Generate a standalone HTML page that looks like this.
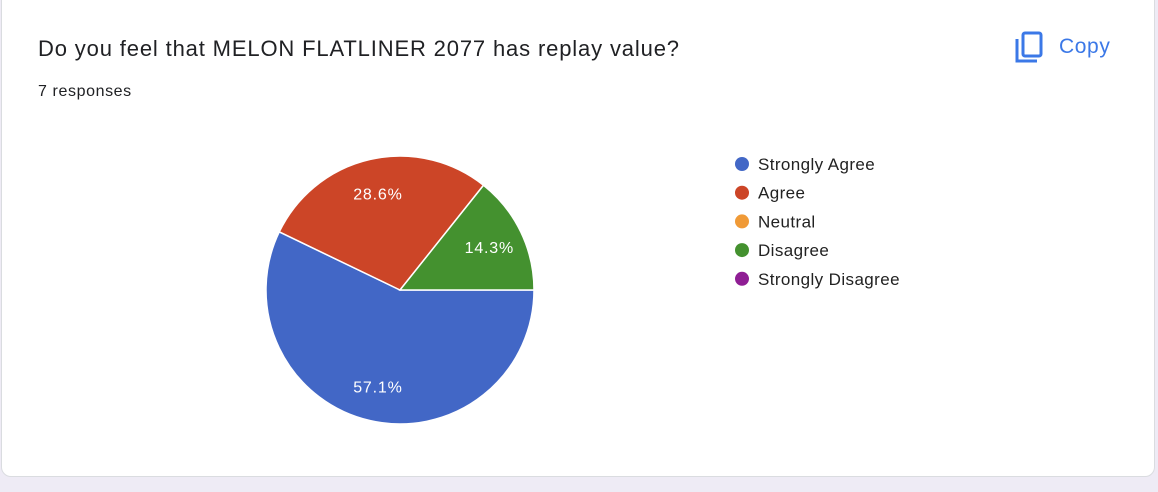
<!DOCTYPE html>
<html><head><meta charset="utf-8"><style>
body{margin:0;width:1158px;height:492px;background:#eeebf5;overflow:hidden;font-family:"Liberation Sans",Arial,sans-serif;}
#card{position:absolute;left:1px;top:-10px;width:1152px;height:485px;background:#fff;border:1px solid #dadce0;border-radius:10px;}
#title{position:absolute;left:38px;top:36px;font-size:22px;letter-spacing:0.85px;color:#202124;}
#resp{position:absolute;left:38px;top:83px;font-size:16px;letter-spacing:0.6px;color:#202124;}
#copy{position:absolute;left:1014px;top:30px;color:#3b78e7;font-size:21px;letter-spacing:0.6px;display:flex;align-items:center;gap:15px;}
</style></head><body>
<div id="card"></div>
<div id="title">Do you feel that MELON FLATLINER 2077 has replay value?</div>
<div id="resp">7 responses</div>
<div id="copy">
<svg width="30" height="34" viewBox="0 0 30 34"><path d="M3 9 V31 H23" fill="none" stroke="#3b78e7" stroke-width="3"/><rect x="9" y="3" width="18" height="23" rx="2" fill="none" stroke="#3b78e7" stroke-width="3"/></svg>
<span>Copy</span></div>
<svg id="chart" width="1158" height="492" style="position:absolute;left:0;top:0"></svg>
<script>
const categories=["Strongly Agree","Agree","Neutral","Disagree","Strongly Disagree"];
const values=[4,2,0,1,0];
const colors=["#4267c6","#cc4527","#f09a37","#44912f","#8f1e94"];
const svg=document.getElementById('chart');
const NS="http://www.w3.org/2000/svg";
const cx=400,cy=290,r=134;
const total=values.reduce((a,b)=>a+b,0);
let a0=0;
values.forEach((v,i)=>{
  if(!v)return;
  const a1=a0+v/total*2*Math.PI;
  const p=document.createElementNS(NS,'path');
  const x0=cx+r*Math.cos(a0),y0=cy+r*Math.sin(a0),x1=cx+r*Math.cos(a1),y1=cy+r*Math.sin(a1);
  p.setAttribute('d',`M${cx},${cy} L${x0},${y0} A${r},${r} 0 ${a1-a0>Math.PI?1:0} 1 ${x1},${y1} Z`);
  p.setAttribute('fill',colors[i]);p.setAttribute('stroke','#fff');p.setAttribute('stroke-width','1.5');
  
  
  svg.appendChild(p);
  const am=(a0+a1)/2,lr=r*0.74;
  const t=document.createElementNS(NS,'text');
  t.setAttribute('x',cx+lr*Math.cos(am));t.setAttribute('y',cy+lr*Math.sin(am)+6);
  t.setAttribute('text-anchor','middle');t.setAttribute('fill','#fff');t.setAttribute('font-size','16');
  t.setAttribute('letter-spacing','0.8');
  t.textContent=(v/total*100).toFixed(1)+'%';
  
  
  svg.appendChild(t);
  a0=a1;
});
categories.forEach((c,i)=>{
  const y=164+i*28.7;
  const g=document.createElementNS(NS,'g');
  
  
  const ci=document.createElementNS(NS,'circle');
  ci.setAttribute('cx',742);ci.setAttribute('cy',y);ci.setAttribute('r',7);ci.setAttribute('fill',colors[i]);
  const t=document.createElementNS(NS,'text');
  t.setAttribute('x',758);t.setAttribute('y',y+6);t.setAttribute('font-size','17');t.setAttribute('letter-spacing','0.4');t.setAttribute('fill','#222');
  t.textContent=c;
  g.appendChild(ci);g.appendChild(t);svg.appendChild(g);
});
</script>
</body></html>
